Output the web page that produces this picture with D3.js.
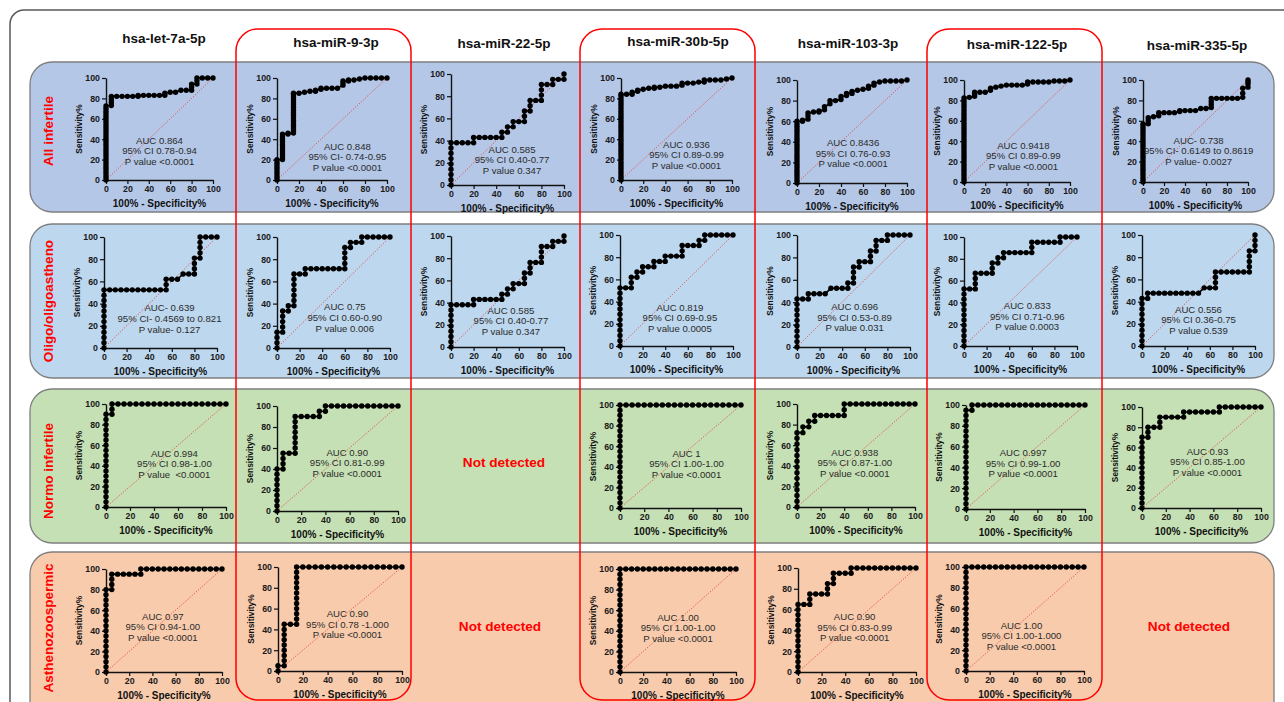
<!DOCTYPE html>
<html>
<head>
<meta charset="utf-8">
<script src="https://cdn.jsdelivr.net/npm/d3@7"></script>
<style>
  body { margin: 0; background: #fff; }
  svg text { font-family: Arial, 'Liberation Sans', sans-serif; }
</style>
</head>
<body>
<svg id="chart" width="1284" height="702"></svg>
<script>
// ---- categories / ticks ----
const groups = ['All infertile', 'Oligo/oligoastheno', 'Normo infertile', 'Asthenozoospermic']
const mirnas = ['hsa-let-7a-5p', 'hsa-miR-9-3p', 'hsa-miR-22-5p', 'hsa-miR-30b-5p', 'hsa-miR-103-3p', 'hsa-miR-122-5p', 'hsa-miR-335-5p']
const axisTicks = [0, 20, 40, 60, 80, 100]
const highlighted = [1, 3, 5]
const notDetected = [[2, 2], [3, 2], [3, 6]]

// ---- ROC points: [100% - specificity, [sensitivity values at that x]] ----
const all_let7a = [[0, [0,2.5,5,7.5,10,12.5,15,17.5,20,22.5,25,27.5,30,32.5,35,37.5,40,42.5,45,47.5,50,52.5,55,57.5,60,62.5,65,67.5,70,72.5]],
  [5, [73,76,79,82]], [10, [82]], [15, [82]], [20, [82]], [25, [82]], [30, [82,83]], [35, [83]], [40, [83]], [45, [83]], [50, [83]],
  [55, [83,85]], [60, [86]], [65, [86]], [70, [88]], [75, [88]], [80, [88,91,94]], [85, [94,97,100]], [90, [100]], [95, [100]], [100, [100]]]
const all_mir9 = [[0, [0,2.5,5,7.5,10,12.5,15,17.5,20]], [5, [20,22.5,25,27.5,30,32.5,35,37.5,40,42.5,45]], [10, [45,46]],
  [15, [46,48.5,51,53.5,56,58.5,61,63.5,66,68.5,71,73.5,76,78.5,81,83.5,85]], [20, [85]], [25, [86]], [30, [87]], [35, [87,88]],
  [40, [89,90]], [45, [90]], [50, [90]], [55, [90]], [60, [93,95,97]], [65, [97,98]], [70, [98]], [75, [99]], [80, [100]], [85, [100]],
  [90, [100]], [95, [100]], [100, [100]]]
const mir22 = [[0, [0,4.8,9.5,14.3,19,23.8,28.6,33.3,38.1]], [5, [38.1]], [10, [38.1]], [15, [38.1]], [20, [38.1,42.9]], [25, [42.9]],
  [30, [42.9]], [35, [42.9]], [40, [42.9]], [45, [42.9,47.6]], [50, [47.6,52.4]], [55, [52.4,57.1]], [60, [57.1]], [65, [57.1,61.9,66.7]],
  [70, [66.7,71.4,76.2]], [75, [76.2]], [80, [76.2,81,85.7,90.5]], [85, [90.5]], [90, [90.5,95.2]], [95, [95.2]], [100, [95.2,100]]]
const all_mir30b = [[0, [0,2.5,5,7.5,10,12.5,15,17.5,20,22.5,25,27.5,30,32.5,35,37.5,40,42.5,45,47.5,50,52.5,55,57.5,60,62.5,65,67.5,70,72.5,75,77.5,80,82.5,84]],
  [5, [84]], [10, [84,86]], [15, [87,88]], [20, [89]], [25, [90]], [30, [90,91]], [35, [91]], [40, [92]], [45, [92]], [50, [92]],
  [55, [93,95]], [60, [95]], [65, [95]], [70, [96]], [75, [96,98]], [80, [98]], [85, [98]], [90, [98]], [95, [99]], [100, [100]]]
const all_mir103 = [[0, [0,2.5,5,7.5,10,12.5,15,17.5,20,22.5,25,27.5,30,32.5,35,37.5,40,42.5,45,47.5,50,52.5,55,57.5,60]],
  [5, [60,61]], [10, [62,65,68]], [15, [69]], [20, [69,70]], [25, [71,74]], [30, [77,80]], [35, [80]], [40, [81,84]], [45, [85,87]],
  [50, [87,89]], [55, [90]], [60, [91]], [65, [92,94]], [70, [95,97]], [75, [98]], [80, [99]], [85, [99]], [90, [99]], [95, [99]], [100, [100]]]
const all_mir122 = [[0, [0,2.5,5,7.5,10,12.5,15,17.5,20,22.5,25,27.5,30,32.5,35,37.5,40,42.5,45,47.5,50,52.5,55,57.5,60,62.5,65,67.5,70,72.5,75,77.5,80,82.5]],
  [5, [83]], [10, [84,86,88]], [15, [88]], [20, [88]], [25, [90,92]], [30, [93]], [35, [94]], [40, [95]], [45, [95]], [50, [95]],
  [55, [95]], [60, [96,98]], [65, [98]], [70, [98]], [75, [98]], [80, [98]], [85, [99]], [90, [99]], [95, [99]], [100, [100]]]
const all_mir335 = [[0, [0,2.5,5,7.5,10,12.5,15,17.5,20,22.5,25,27.5,30,32.5,35,37.5,40,42.5,45,47.5,50,52.5,55,57]],
  [5, [57,60,63]], [10, [64]], [15, [65,68]], [20, [68]], [25, [68]], [30, [68]], [35, [69,70]], [40, [70]], [45, [70]], [50, [70]],
  [55, [72]], [60, [72]], [65, [73,76,79,82]], [70, [82]], [75, [82]], [80, [82]], [85, [82]], [90, [82]], [95, [83,87,92]], [100, [93,96,98,100]]]

const oligo_let7a = [[0, [0,4.8,9.5,14.3,19,23.8,28.6,33.3,38.1,42.9,47.6,52.4]], [5, [52.4]], [10, [52.4]], [15, [52.4]], [20, [52.4]],
  [25, [52.4]], [30, [52.4]], [35, [52.4]], [40, [52.4]], [45, [52.4]], [50, [52.4]], [55, [52.4,57.1,61.9]], [60, [61.9]], [65, [61.9]],
  [70, [66.7]], [75, [66.7]], [80, [66.7,71.4,76.2,81]], [85, [81,85.7,90.5,95.2,100]], [90, [100]], [95, [100]], [100, [100]]]
const oligo_mir9 = [[0, [0,4.8,9.5,14.3]], [5, [14.3,19,23.8,28.6,33.3]], [10, [33.3,38.1]], [15, [38.1,42.9,47.6,52.4,57.1,61.9,66.7]],
  [20, [66.7]], [25, [66.7,71.4]], [30, [71.4]], [35, [71.4]], [40, [71.4]], [45, [71.4]], [50, [71.4]], [55, [71.4]],
  [60, [71.4,76.2,81,85.7,90.5]], [65, [90.5,95.2]], [70, [95.2]], [75, [95.2,100]], [80, [100]], [85, [100]], [90, [100]], [95, [100]], [100, [100]]]
const oligo_mir30b = [[0, [0,4.8,9.5,14.3,19,23.8,28.6,33.3,38.1,42.9,47.6,52.4]], [5, [52.4]], [10, [52.4,57.1,61.9]], [15, [61.9,66.7]],
  [20, [66.7,71.4]], [25, [71.4]], [30, [71.4,76.2]], [35, [76.2]], [40, [76.2,81]], [45, [81]], [50, [81]], [55, [81,85.7,90.5]],
  [60, [90.5]], [65, [90.5]], [70, [90.5,95.2]], [75, [95.2,100]], [80, [100]], [85, [100]], [90, [100]], [95, [100]], [100, [100]]]
const oligo_mir103 = [[0, [0,4.8,9.5,14.3,19,23.8,28.6,33.3,38.1,42.9]], [5, [42.9]], [10, [42.9,47.6]], [15, [47.6]], [20, [47.6]],
  [25, [47.6]], [30, [52.4]], [35, [52.4]], [40, [52.4]], [45, [52.4,57.1]], [50, [57.1,61.9,66.7,71.4]], [55, [71.4,76.2]], [60, [76.2]],
  [65, [76.2,81,85.7]], [70, [85.7,90.5,95.2]], [75, [95.2]], [80, [95.2,100]], [85, [100]], [90, [100]], [95, [100]], [100, [100]]]
const oligo_mir122 = [[0, [0,4.8,9.5,14.3,19,23.8,28.6,33.3,38.1,42.9,47.6,52.4]], [5, [52.4]], [10, [52.4,57.1,61.9,66.7]], [15, [66.7]],
  [20, [66.7]], [25, [66.7,71.4,76.2]], [30, [76.2,81]], [35, [81,85.7]], [40, [85.7]], [45, [85.7]], [50, [85.7]], [55, [85.7]],
  [60, [85.7,90.5,95.2]], [65, [95.2]], [70, [95.2]], [75, [95.2]], [80, [95.2]], [85, [95.2,100]], [90, [100]], [95, [100]], [100, [100]]]
const oligo_mir335 = [[0, [0,4.8,9.5,14.3,19,23.8,28.6,33.3,38.1,42.9]], [5, [42.9,47.6]], [10, [47.6]], [15, [47.6]], [20, [47.6]],
  [25, [47.6]], [30, [47.6]], [35, [47.6]], [40, [47.6]], [45, [47.6]], [50, [47.6]], [55, [52.4]], [60, [52.4]], [65, [52.4,57.1,61.9,66.7]],
  [70, [66.7]], [75, [66.7]], [80, [66.7]], [85, [66.7]], [90, [66.7]], [95, [66.7,71.4,76.2,81,85.7]], [100, [85.7,90.5,95.2,100]]]

const normo_let7a = [[0, [0,5,10,15,20,25,30,35,40,45,50,55,60,65,70,75,80,85,90]], [5, [90,95,100]], [10, [100]], [15, [100]], [20, [100]],
  [25, [100]], [30, [100]], [35, [100]], [40, [100]], [45, [100]], [50, [100]], [55, [100]], [60, [100]], [65, [100]], [70, [100]],
  [75, [100]], [80, [100]], [85, [100]], [90, [100]], [95, [100]], [100, [100]]]
const normo_mir9 = [[0, [0,5,10,15,20,25,30,35,40]], [5, [40,45,50,55]], [10, [55]], [15, [55,60,65,70,75,80,85,90]], [20, [90]], [25, [90]],
  [30, [90]], [35, [90,95]], [40, [95,100]], [45, [100]], [50, [100]], [55, [100]], [60, [100]], [65, [100]], [70, [100]], [75, [100]],
  [80, [100]], [85, [100]], [90, [100]], [95, [100]], [100, [100]]]
const normo_mir30b = [[0, [0,5,10,15,20,25,30,35,40,45,50,55,60,65,70,75,80,85,90,95,100]], [5, [100]], [10, [100]], [15, [100]], [20, [100]],
  [25, [100]], [30, [100]], [35, [100]], [40, [100]], [45, [100]], [50, [100]], [55, [100]], [60, [100]], [65, [100]], [70, [100]],
  [75, [100]], [80, [100]], [85, [100]], [90, [100]], [95, [100]], [100, [100]]]
const normo_mir103 = [[0, [0,5.6,11.1,16.7,22.2,27.8,33.3,38.9,44.4,50,55.6,61.1,66.7,72.2]], [5, [72.2,77.8]], [10, [77.8,83.3]],
  [15, [83.3,88.9]], [20, [88.9]], [25, [88.9]], [30, [88.9]], [35, [88.9]], [40, [88.9,94.4,100]], [45, [100]], [50, [100]], [55, [100]],
  [60, [100]], [65, [100]], [70, [100]], [75, [100]], [80, [100]], [85, [100]], [90, [100]], [95, [100]], [100, [100]]]
const normo_mir122 = [[0, [0,5,10,15,20,25,30,35,40,45,50,55,60,65,70,75,80,85,90,95]], [5, [95,100]], [10, [100]], [15, [100]], [20, [100]],
  [25, [100]], [30, [100]], [35, [100]], [40, [100]], [45, [100]], [50, [100]], [55, [100]], [60, [100]], [65, [100]], [70, [100]],
  [75, [100]], [80, [100]], [85, [100]], [90, [100]], [95, [100]], [100, [100]]]
const normo_mir335 = [[0, [0,5,10,15,20,25,30,35,40,45,50,55,60,65,70]], [5, [70,75,80]], [10, [80]], [15, [80,85,90]], [20, [90]], [25, [90]],
  [30, [90]], [35, [90,95]], [40, [95]], [45, [95]], [50, [95]], [55, [95]], [60, [95]], [65, [95,100]], [70, [100]], [75, [100]],
  [80, [100]], [85, [100]], [90, [100]], [95, [100]], [100, [100]]]

const astheno_let7a = [[0, [0,5,10,15,20,25,30,35,40,45,50,55,60,65,70,75,80]], [5, [80,85,90,95]], [10, [95]], [15, [95]], [20, [95]],
  [25, [95]], [30, [95,100]], [35, [100]], [40, [100]], [45, [100]], [50, [100]], [55, [100]], [60, [100]], [65, [100]], [70, [100]],
  [75, [100]], [80, [100]], [85, [100]], [90, [100]], [95, [100]], [100, [100]]]
const astheno_mir9 = [[0, [0,5]], [5, [5,10,15,20,25,30,35,40,45]], [10, [45]], [15, [45,50,55,60,65,70,75,80,85,90,95,100]], [20, [100]],
  [25, [100]], [30, [100]], [35, [100]], [40, [100]], [45, [100]], [50, [100]], [55, [100]], [60, [100]], [65, [100]], [70, [100]],
  [75, [100]], [80, [100]], [85, [100]], [90, [100]], [95, [100]], [100, [100]]]
const astheno_mir30b = [[0, [0,5,10,15,20,25,30,35,40,45,50,55,60,65,70,75,80,85,90,95,100]], [5, [100]], [10, [100]], [15, [100]], [20, [100]],
  [25, [100]], [30, [100]], [35, [100]], [40, [100]], [45, [100]], [50, [100]], [55, [100]], [60, [100]], [65, [100]], [70, [100]],
  [75, [100]], [80, [100]], [85, [100]], [90, [100]], [95, [100]], [100, [100]]]
const astheno_mir103 = [[0, [0,5,10,15,20,25,30,35,40,45,50,55,60,65]], [5, [65]], [10, [65,70,75]], [15, [75]], [20, [75]], [25, [75,80,85]],
  [30, [85,90,95]], [35, [95]], [40, [95]], [45, [95,100]], [50, [100]], [55, [100]], [60, [100]], [65, [100]], [70, [100]], [75, [100]],
  [80, [100]], [85, [100]], [90, [100]], [95, [100]], [100, [100]]]
const astheno_mir122 = [[0, [0,5,10,15,20,25,30,35,40,45,50,55,60,65,70,75,80,85,90,95,100]], [5, [100]], [10, [100]], [15, [100]], [20, [100]],
  [25, [100]], [30, [100]], [35, [100]], [40, [100]], [45, [100]], [50, [100]], [55, [100]], [60, [100]], [65, [100]], [70, [100]],
  [75, [100]], [80, [100]], [85, [100]], [90, [100]], [95, [100]], [100, [100]]]

// ---- panels: row, column, curve, printed statistics ----
const panels = [
  { row: 0, col: 0, roc: all_let7a, stats: ['AUC 0.864', '95% CI 0.78-0.94', 'P value <0.0001'] },
  { row: 0, col: 1, roc: all_mir9, stats: ['AUC 0.848', '95% CI- 0.74-0.95', 'P value <0.0001'] },
  { row: 0, col: 2, roc: mir22, stats: ['AUC 0.585', '95% CI 0.40-0.77', 'P value 0.347'] },
  { row: 0, col: 3, roc: all_mir30b, stats: ['AUC 0.936', '95% CI 0.89-0.99', 'P value <0.0001'] },
  { row: 0, col: 4, roc: all_mir103, stats: ['AUC 0.8436', '95% CI 0.76-0.93', 'P value <0.0001'] },
  { row: 0, col: 5, roc: all_mir122, stats: ['AUC 0.9418', '95% CI 0.89-0.99', 'P value <0.0001'] },
  { row: 0, col: 6, roc: all_mir335, stats: ['AUC- 0.738', '95% CI- 0.6149 to 0.8619', 'P value- 0.0027'] },
  { row: 1, col: 0, roc: oligo_let7a, stats: ['AUC- 0.639', '95% CI- 0.4569 to 0.821', 'P value- 0.127'] },
  { row: 1, col: 1, roc: oligo_mir9, stats: ['AUC 0.75', '95% CI 0.60-0.90', 'P value 0.006'] },
  { row: 1, col: 2, roc: mir22, stats: ['AUC 0.585', '95% CI 0.40-0.77', 'P value 0.347'] },
  { row: 1, col: 3, roc: oligo_mir30b, stats: ['AUC 0.819', '95% CI 0.69-0.95', 'P value 0.0005'] },
  { row: 1, col: 4, roc: oligo_mir103, stats: ['AUC 0.696', '95% CI 0.53-0.89', 'P value 0.031'] },
  { row: 1, col: 5, roc: oligo_mir122, stats: ['AUC 0.833', '95% CI 0.71-0.96', 'P value 0.0003'] },
  { row: 1, col: 6, roc: oligo_mir335, stats: ['AUC 0.556', '95% CI 0.36-0.75', 'P value 0.539'] },
  { row: 2, col: 0, roc: normo_let7a, stats: ['AUC 0.994', '95% CI 0.98-1.00', 'P value  <0.0001'] },
  { row: 2, col: 1, roc: normo_mir9, stats: ['AUC 0.90', '95% CI 0.81-0.99', 'P value <0.0001'] },
  { row: 2, col: 3, roc: normo_mir30b, stats: ['AUC 1', '95% CI 1.00-1.00', 'P value <0.0001'] },
  { row: 2, col: 4, roc: normo_mir103, stats: ['AUC 0.938', '95% CI 0.87-1.00', 'P value <0.0001'] },
  { row: 2, col: 5, roc: normo_mir122, stats: ['AUC 0.997', '95% CI 0.99-1.00', 'P value <0.0001'] },
  { row: 2, col: 6, roc: normo_mir335, stats: ['AUC 0.93', '95% CI 0.85-1.00', 'P value <0.0001'] },
  { row: 3, col: 0, roc: astheno_let7a, stats: ['AUC 0.97', '95% CI 0.94-1.00', 'P value <0.0001'] },
  { row: 3, col: 1, roc: astheno_mir9, stats: ['AUC 0.90', '95% CI 0.78 -1.000', 'P value <0.0001'] },
  { row: 3, col: 3, roc: astheno_mir30b, stats: ['AUC 1.00', '95% CI 1.00-1.00', 'P value <0.0001'] },
  { row: 3, col: 4, roc: astheno_mir103, stats: ['AUC 0.90', '95% CI 0.83-0.99', 'P value <0.0001'] },
  { row: 3, col: 5, roc: astheno_mir122, stats: ['AUC 1.00', '95% CI 1.00-1.000', 'P value <0.0001'] }
]

// ---- layout (pixels) ----
// plot box per panel: [left, top(100%), right, bottom(0%)]
const plotBox = [
  [[106,78,213,180],[277,78,387,180],[451,74,564,185],[621,78,732,180],[797,80,907,183],[964,80,1070,182],[1143,80,1248,182]],
  [[104,237,217,348],[277,237,390,348],[451,236,564,347],[620,235,733,346],[797,235,910,347],[964,237,1077,346],[1142,235,1255,346]],
  [[106,404,226,507],[277,406,398,511],null,[620,405,741,508],[797,404,915,507],[966,405,1085,509],[1142,407,1261,508]],
  [[106,569,222,672],[278,567,402,671],null,[620,569,736,672],[798,568,916,672],[966,567,1084,671],null]
]
// stats anchor, in data units of each panel
const noteAt = [
  [[50,39],[64,33],[54,32],[59,35],[51,39],[56,36],[53,41]],
  [[58,36],[60,37],[53,33],[53,35],[51,36],[56,37],[50,33]],
  [[57,52],[58,56],null,[55,53],[49,53],[48,54],[55,56]],
  [[49,54],[56,55],null,[50,53],[48,53],[47,44],null]
]
const headerX = [164, 336, 504, 678, 848, 1017, 1197]
const headerY = [43, 47, 48, 46, 48, 49, 50]
const bandY = [[62, 150], [224, 154], [389, 154], [552, 170]]
const bandFill = ['#b4c7e7', '#bdd7ee', '#c5e0b4', '#f8cbad']
const groupLabelY = [131, 301, 471, 628]
const highlightX = [236, 580, 927]
const notDetectedPos = [[504, 467], [500, 631], [1189, 631]]

const svg = d3.select('#chart')

// outer frame
svg.append('rect')
  .attr('x', 10).attr('y', 10).attr('width', 1300).attr('height', 720).attr('rx', 14)
  .attr('fill', 'none').attr('stroke', '#595959').attr('stroke-width', 1.5)

// coloured row bands
svg.selectAll('.band').data(groups).enter().append('rect')
  .attr('class', 'band')
  .attr('x', 30).attr('width', 1244)
  .attr('y', (d, i) => bandY[i][0]).attr('height', (d, i) => bandY[i][1])
  .attr('rx', 22)
  .attr('fill', (d, i) => bandFill[i])
  .attr('stroke', '#7f7f7f').attr('stroke-width', 1.3)

// red column highlights
svg.selectAll('.hl').data(highlighted).enter().append('rect')
  .attr('class', 'hl')
  .attr('x', (d, i) => highlightX[i]).attr('y', 29)
  .attr('width', 175).attr('height', 671).attr('rx', 22)
  .attr('fill', 'none').attr('stroke', '#ff0000').attr('stroke-width', 1.5)

// column headers
svg.selectAll('.hdr').data(mirnas).enter().append('text')
  .attr('class', 'hdr')
  .attr('x', (d, i) => headerX[i]).attr('y', (d, i) => headerY[i])
  .attr('text-anchor', 'middle')
  .attr('font-size', 13.5).attr('font-weight', 'bold').attr('fill', '#111')
  .text(d => d)

// row labels
svg.selectAll('.grp').data(groups).enter().append('text')
  .attr('class', 'grp')
  .attr('transform', (d, i) => `translate(53, ${groupLabelY[i]}) rotate(-90)`)
  .attr('text-anchor', 'middle')
  .attr('font-size', 13.5).attr('font-weight', 'bold').attr('fill', '#ff0000')
  .text(d => d)

// "Not detected" cells
notDetected.forEach(([r, c], i) => {
  svg.append('text')
    .attr('x', notDetectedPos[i][0]).attr('y', notDetectedPos[i][1])
    .attr('text-anchor', 'middle')
    .attr('font-size', 13.6).attr('font-weight', 'bold').attr('fill', '#ff0000')
    .text('Not detected')
})

// ROC panels
panels.forEach(p => {
  const [x0, y0, x1, y1] = plotBox[p.row][p.col]
  const x = d3.scaleLinear().domain([0, 100]).range([x0, x1])
  const y = d3.scaleLinear().domain([0, 100]).range([y1, y0])
  const g = svg.append('g')

  // diagonal reference line
  g.append('line')
    .attr('x1', x(0)).attr('y1', y(0)).attr('x2', x(100)).attr('y2', y(100))
    .attr('stroke', '#e8443a').attr('stroke-width', 0.9).attr('stroke-dasharray', '1.2,1.6')

  // axes
  const xAxis = g.append('g')
    .attr('transform', `translate(0, ${y1})`)
    .call(d3.axisBottom(x).tickValues(axisTicks).tickSize(4).tickSizeOuter(0).tickPadding(2))
  const yAxis = g.append('g')
    .attr('transform', `translate(${x0}, 0)`)
    .call(d3.axisLeft(y).tickValues(axisTicks).tickSize(4).tickSizeOuter(0).tickPadding(2))
  ;[xAxis, yAxis].forEach(a => {
    a.select('.domain').attr('stroke', '#111').attr('stroke-width', 1.4)
    a.selectAll('.tick line').attr('stroke', '#111').attr('stroke-width', 1.2)
    a.selectAll('.tick text')
      .attr('font-size', 8.8).attr('font-weight', 'bold').attr('fill', '#1a1a1a')
      .attr('font-family', 'Arial, Liberation Sans, sans-serif')
  })

  // axis titles
  g.append('text')
    .attr('x', (x0 + x1) / 2).attr('y', y1 + 27)
    .attr('text-anchor', 'middle')
    .attr('font-size', 10).attr('font-weight', 'bold').attr('fill', '#111')
    .text('100% - Specificity%')
  g.append('text')
    .attr('transform', `translate(${x0 - 24}, ${(y0 + y1) / 2}) rotate(-90)`)
    .attr('text-anchor', 'middle')
    .attr('font-size', 8.4).attr('font-weight', 'bold').attr('fill', '#111')
    .text('Sensitivity%')

  // curve + dots
  const pts = p.roc.flatMap(([fx, ys]) => ys.map(s => [fx, s]))
  g.append('path')
    .datum(pts)
    .attr('fill', 'none').attr('stroke', '#000').attr('stroke-width', 1.6)
    .attr('d', d3.line().x(d => x(d[0])).y(d => y(d[1])))
  g.selectAll('circle').data(pts).enter().append('circle')
    .attr('cx', d => x(d[0])).attr('cy', d => y(d[1])).attr('r', 2.7)
    .attr('fill', '#000')

  // statistics
  const [ax, ay] = noteAt[p.row][p.col]
  g.selectAll('.stat').data(p.stats).enter().append('text')
    .attr('class', 'stat')
    .attr('x', x(ax)).attr('y', (d, i) => y(ay) + 3.4 + i * 10.6)
    .attr('text-anchor', 'middle')
    .attr('font-size', 9.6).attr('fill', '#2b2b2b')
    .style('white-space', 'pre')
    .text(d => d)
})
</script>
</body>
</html>
